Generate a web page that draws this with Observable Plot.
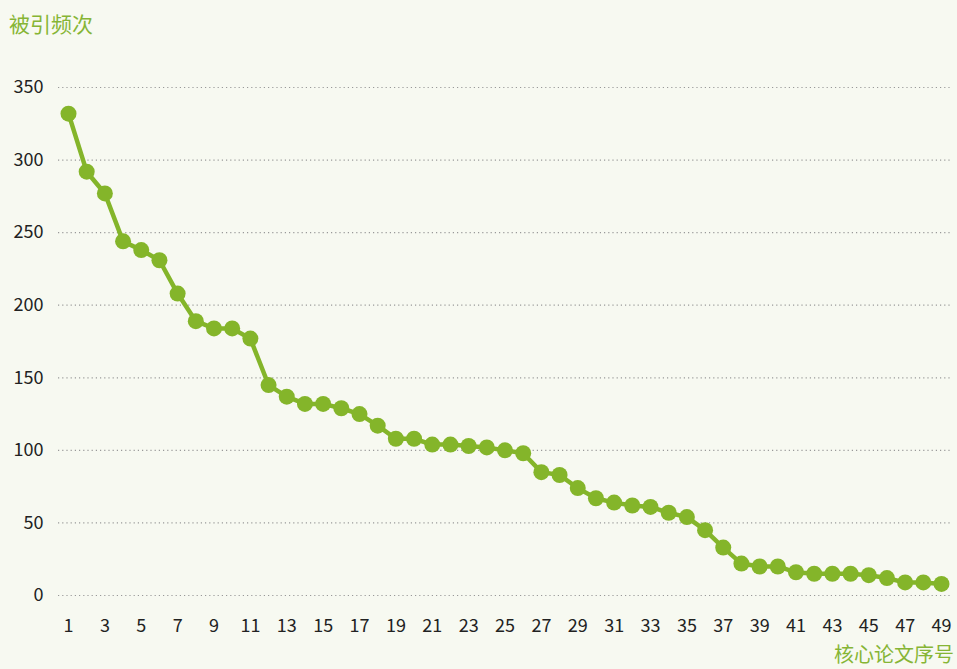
<!DOCTYPE html>
<html>
<head>
<meta charset="utf-8">
<script src="https://cdn.jsdelivr.net/npm/d3@7"></script>
<script src="https://cdn.jsdelivr.net/npm/@observablehq/plot@0.6"></script>
<style>
  html, body { margin: 0; padding: 0; background: #f7f9f1; }
  body { width: 957px; height: 669px; overflow: hidden; font-family: "Noto Sans CJK SC", "Noto Sans", sans-serif; }
  #title { height: 48px; box-sizing: border-box; padding: 9px 0 0 9px; font-size: 21px; color: #86b535; line-height: 28px; }
  #xlabel { height: 27px; box-sizing: border-box; padding: 1px 3px 0 0; text-align: right; font-size: 20px; color: #86b535; line-height: 22px; }
  svg { display: block; }
</style>
</head>
<body>
<div id="title">被引频次</div>
<div id="chart"></div>
<div id="xlabel">核心论文序号</div>
<script>
const ranks = d3.range(1, 50);
const citations = [332, 292, 277, 244, 238, 231, 208, 189, 184, 184,
  177, 145, 137, 132, 132, 129, 125, 117, 108, 108,
  104, 104, 103, 102, 100, 98, 85, 83, 74, 67,
  64, 62, 61, 57, 54, 45, 33, 22, 20, 20,
  16, 15, 15, 15, 14, 12, 9, 9, 8];
const xTicks = d3.range(1, 50, 2);
const yTicks = [0, 50, 100, 150, 200, 250, 300, 350];

const data = ranks.map((r, i) => ({rank: r, value: citations[i]}));
const green = "#84b52a";

const chart = Plot.plot({
  width: 957,
  height: 594,
  marginLeft: 58,
  marginRight: 6,
  marginTop: 39,
  marginBottom: 47,
  style: {background: "transparent", fontFamily: "'Noto Sans CJK SC', sans-serif", fontSize: "18px", color: "#222"},
  x: {domain: [0.45, 49.55], ticks: xTicks, tickSize: 0, tickPadding: 24, label: null, tickFormat: d => String(d)},
  y: {domain: [0, 350], ticks: yTicks, tickSize: 0, tickPadding: 15, label: null, tickFormat: d => String(d)},
  marks: [
    Plot.ruleY(yTicks, {stroke: "#999", strokeDasharray: "1.2,3", strokeWidth: 1.2}),
    Plot.line(data, {x: "rank", y: "value", stroke: green, strokeWidth: 4.5}),
    Plot.dot(data, {x: "rank", y: "value", fill: green, r: 8})
  ]
});
document.getElementById("chart").appendChild(chart);
</script>
</body>
</html>
